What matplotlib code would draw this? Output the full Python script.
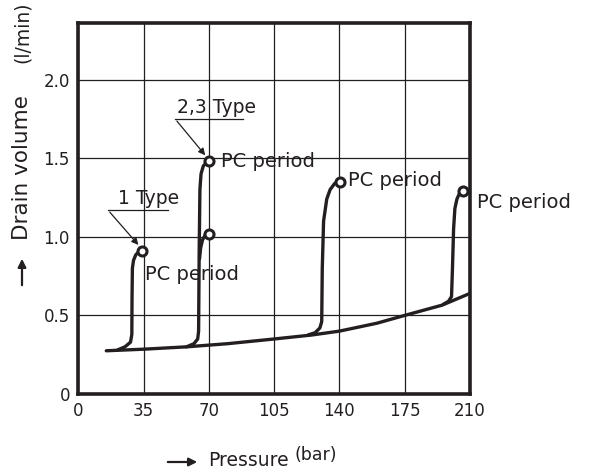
import matplotlib
matplotlib.use("Agg")
import matplotlib.pyplot as plt

# baseline drain curve
base_p = [15, 35, 58, 80, 105, 125, 140, 160, 175, 195, 210]
base_q = [0.275, 0.285, 0.30, 0.32, 0.35, 0.375, 0.40, 0.45, 0.50, 0.565, 0.64]

# spikes (PC period)
s1_p = [21, 25, 28, 28.7, 28.8, 29.0, 29.6, 30.8, 32.5, 34.1]
s1_q = [0.28, 0.30, 0.33, 0.38, 0.60, 0.80, 0.85, 0.885, 0.905, 0.91]

s2_p = [58, 62, 64, 64.5, 64.8, 65.2, 65.8, 67, 68.5, 70]
s2_q = [0.30, 0.32, 0.35, 0.40, 0.90, 1.30, 1.40, 1.45, 1.47, 1.48]

s2b_p = [65.0, 65.6, 66.6, 68.0, 70]
s2b_q = [0.86, 0.93, 0.98, 1.01, 1.02]

s3_p = [123.3, 127, 129.5, 130.5, 130.8, 131.5, 133.2, 135, 137.5, 140.3]
s3_q = [0.376, 0.39, 0.42, 0.46, 0.80, 1.10, 1.24, 1.30, 1.34, 1.35]

s4_p = [195.6, 198.5, 200.1, 200.6, 201.2, 201.9, 203.0, 204.5, 206.2]
s4_q = [0.57, 0.59, 0.62, 0.80, 1.05, 1.18, 1.24, 1.28, 1.29]

circ_p = [34.1, 70, 70, 140.3, 206.2]
circ_q = [0.91, 1.02, 1.48, 1.35, 1.29]

x_ticks = [0, 35, 70, 105, 140, 175, 210]
y_ticks = [0, 0.5, 1.0, 1.5, 2.0]
y_labels = ["0", "0.5", "1.0", "1.5", "2.0"]

plt.rcParams['font.family'] = ['DejaVu Sans']
ink = '#231f20'

fig = plt.figure(figsize=(5.93, 4.71), dpi=100)
ax = fig.add_axes([78.3 / 593, 1 - 394 / 471, (470 - 78.3) / 593, (394 - 23) / 471])

ax.set_xlim(0, 210)
ax.set_ylim(0, 2.36)
ax.set_xticks(x_ticks)
ax.set_yticks(y_ticks)
ax.set_yticklabels(y_labels)
ax.tick_params(length=0, labelsize=12, colors=ink, pad=6)
ax.grid(True, color=ink, lw=0.9)
ax.set_axisbelow(True)
for sp in ax.spines.values():
    sp.set_linewidth(2.6)
    sp.set_color(ink)
    sp.set_zorder(4)

kw = dict(color=ink, lw=2.4, solid_capstyle='round', solid_joinstyle='round')
ax.plot(base_p, base_q, **kw)
ax.plot(s1_p, s1_q, **kw)
ax.plot(s2_p, s2_q, **kw)
ax.plot(s2b_p, s2b_q, **kw)
ax.plot(s3_p, s3_q, **kw)
ax.plot(s4_p, s4_q, **kw)
ax.plot(circ_p, circ_q, 'o', ms=6.5, mfc='white', mec=ink, mew=2.2, clip_on=False, zorder=3)

# labels on the curves
fs = 14
ax.text(35.7, 0.76, "PC period", fontsize=fs, va='center', color=ink)
ax.text(76.3, 1.48, "PC period", fontsize=fs, va='center', color=ink)
ax.text(144.5, 1.355, "PC period", fontsize=fs, va='center', color=ink)
ax.text(213.5, 1.215, "PC period", fontsize=fs, va='center', color=ink, clip_on=False)

# type callouts
ax.plot([15.9, 48.1], [1.17, 1.17], color=ink, lw=0.9)
ax.text(21.4, 1.185, "1 Type", fontsize=13.5, va='bottom', color=ink)
ax.annotate("", xy=(33.2, 0.935), xytext=(15.9, 1.17),
            arrowprops=dict(arrowstyle='-|>', color=ink, lw=0.9, mutation_scale=10))

ax.plot([51.9, 88.4], [1.75, 1.75], color=ink, lw=0.9)
ax.text(53, 1.765, "2,3 Type", fontsize=13.5, va='bottom', color=ink)
ax.annotate("", xy=(69.0, 1.505), xytext=(51.9, 1.75),
            arrowprops=dict(arrowstyle='-|>', color=ink, lw=0.9, mutation_scale=10))

# axis titles
arrow_kw = dict(arrowstyle='-|>', color=ink, lw=1.6, mutation_scale=12)
fig.add_artist(matplotlib.patches.FancyArrowPatch(
    (22 / 593, 1 - 288 / 471), (22 / 593, 1 - 256 / 471),
    transform=fig.transFigure, **arrow_kw))
fig.text(22 / 593, 1 - 168 / 471, "Drain volume", fontsize=15.5, rotation=90, ha='center', va='center', color=ink)
fig.text(22 / 593, 1 - 32 / 471, "(l/min)", fontsize=13.5, rotation=90, ha='center', va='center', color=ink)

fig.add_artist(matplotlib.patches.FancyArrowPatch(
    (165 / 593, 1 - 462 / 471), (200 / 593, 1 - 462 / 471),
    transform=fig.transFigure, **arrow_kw))
fig.text(208 / 593, 1 - 460 / 471, "Pressure", fontsize=13.5, ha='left', va='center', color=ink)
fig.text(294 / 593, 1 - 455 / 471, "(bar)", fontsize=12.5, ha='left', va='center', color=ink)

fig.savefig("out.png", dpi=100)
